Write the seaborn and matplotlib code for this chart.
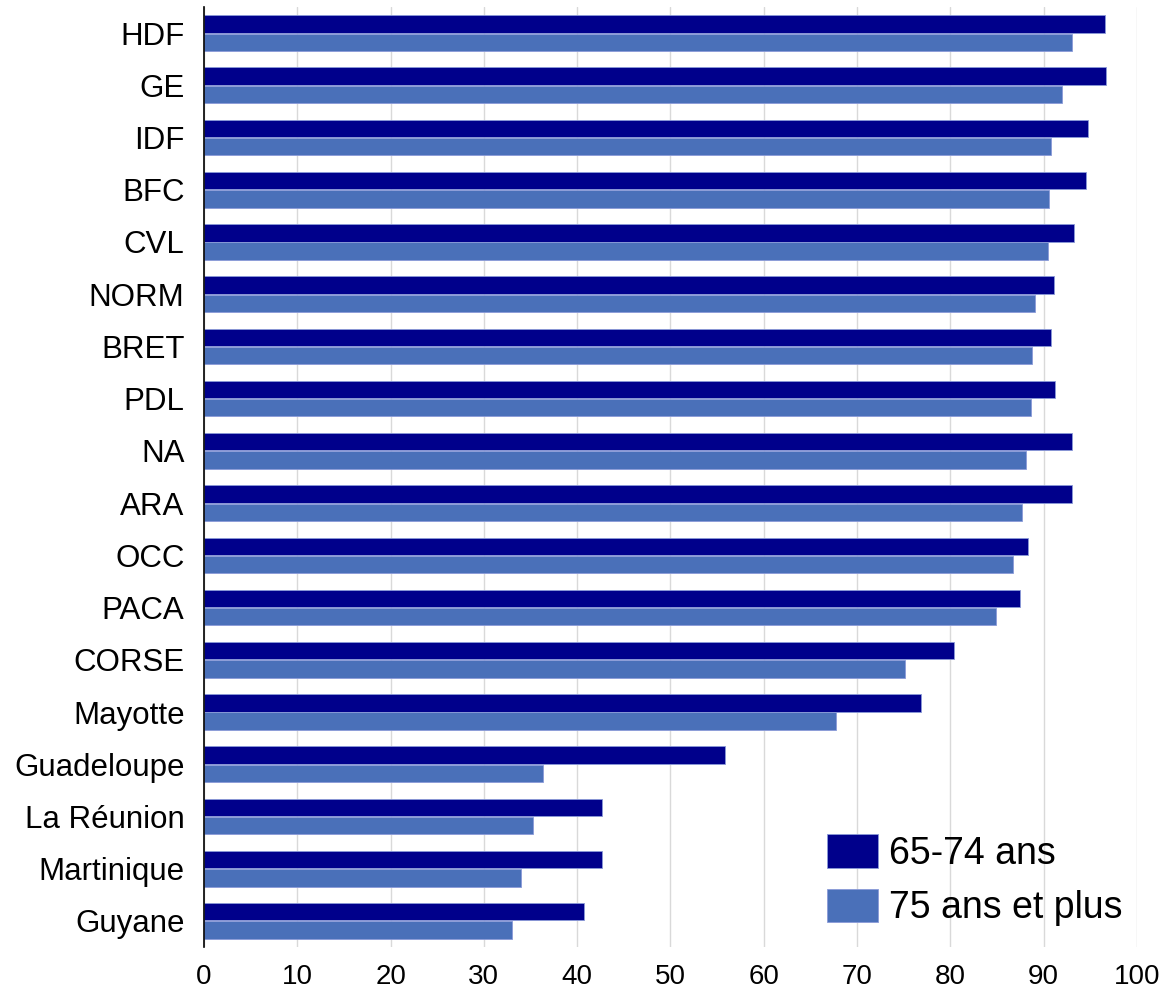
import matplotlib
matplotlib.use("Agg")
import matplotlib.pyplot as plt
import seaborn as sns
import pandas as pd

# Regions and shares (%) per age group
regions = ['HDF', 'GE', 'IDF', 'BFC', 'CVL', 'NORM', 'BRET', 'PDL', 'NA', 'ARA',
           'OCC', 'PACA', 'CORSE', 'Mayotte', 'Guadeloupe', 'La Réunion',
           'Martinique', 'Guyane']
age_65_74 = [96.6, 96.7, 94.8, 94.5, 93.3, 91.1, 90.8, 91.2, 93.0, 93.0,
             88.3, 87.5, 80.4, 76.9, 55.8, 42.7, 42.7, 40.7]
age_75_plus = [93.1, 92.0, 90.8, 90.6, 90.5, 89.1, 88.8, 88.6, 88.1, 87.7,
               86.7, 84.9, 75.1, 67.8, 36.3, 35.3, 34.0, 33.0]
groups = ['65-74 ans', '75 ans et plus']
colors = ['#00008b', '#4a70b9']

df = pd.DataFrame({
    'region': regions * 2,
    'value': age_65_74 + age_75_plus,
    'groupe': [groups[0]] * len(regions) + [groups[1]] * len(regions),
})

sns.set_style('white')
plt.rcParams['font.family'] = ['Liberation Sans', 'DejaVu Sans']
plt.rcParams['text.color'] = 'black'

fig = plt.figure(figsize=(11.69, 9.93), dpi=100)
ax = fig.add_axes([0.1745, 0.0463, 0.798, 0.9467])

sns.barplot(data=df, x='value', y='region', hue='groupe', orient='h',
            palette=colors, saturation=1, width=0.7, gap=0.05, order=regions,
            hue_order=groups, edgecolor='#8a9ad8', linewidth=0.6, ax=ax)

ax.set_xlim(0, 100)
ax.set_xticks(range(0, 101, 10))
ax.xaxis.grid(True, color='#d9d9d9', linewidth=1)
ax.set_axisbelow(True)
ax.set_xlabel('')
ax.set_ylabel('')
ax.tick_params(axis='both', length=0, colors='black')
ax.tick_params(axis='y', labelsize=22.5, pad=14)
ax.tick_params(axis='x', labelsize=20, pad=12)
for s in ['top', 'right', 'bottom']:
    ax.spines[s].set_visible(False)
ax.spines['left'].set_color('black')
ax.spines['left'].set_linewidth(1.2)

ax.legend(loc='lower right', bbox_to_anchor=(1.009, -0.002), frameon=False,
          fontsize=27, handlelength=1.35, handleheight=1.0, labelspacing=0.45,
          handletextpad=0.3, borderaxespad=0.2)

fig.savefig('out.png', dpi=100)
